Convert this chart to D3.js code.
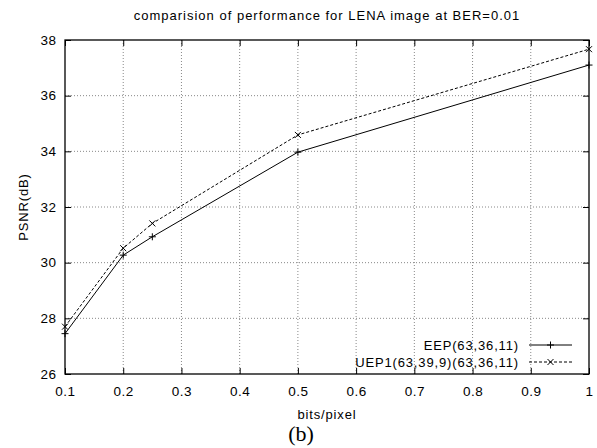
<!DOCTYPE html>
<html><head><meta charset="utf-8">
<script src="https://cdn.jsdelivr.net/npm/d3@7"></script>
<style>body{margin:0;background:#fff}svg{display:block}</style>
</head><body>
<svg id="c" width="597" height="448"></svg>
<script>
const xVals = [0.1, 0.2, 0.25, 0.5, 1.0];
const eep = [27.45, 30.27, 30.93, 33.97, 37.1];
const uep = [27.7, 30.52, 31.41, 34.59, 37.67];
const xTicks = [0.1,0.2,0.3,0.4,0.5,0.6,0.7,0.8,0.9,1];
const yTicks = [26,28,30,32,34,36,38];
const seriesNames = ["EEP(63,36,11)", "UEP1(63,39,9)(63,36,11)"];

const SANS = "Liberation Sans, Arial, sans-serif";
const svg = d3.select("#c");
const L=65, R=589, T=40, B=374;
const x = d3.scaleLinear().domain([0.1,1]).range([L,R]);
const y = d3.scaleLinear().domain([26,38]).range([B,T]);

// grid
const g = svg.append("g");
xTicks.forEach(t=>{ if(t>0.1 && t<1) g.append("line").attr("x1",x(t)).attr("x2",x(t)).attr("y1",T).attr("y2",B)
  .attr("stroke","#888").attr("stroke-width",1).attr("stroke-dasharray","1,2");});
yTicks.forEach(t=>{ if(t>26 && t<38) g.append("line").attr("x1",L).attr("x2",R).attr("y1",y(t)).attr("y2",y(t))
  .attr("stroke","#888").attr("stroke-width",1).attr("stroke-dasharray","1,2");});

// axes
const ax = svg.append("g").attr("transform",`translate(0,${B})`)
  .call(d3.axisBottom(x).tickValues(xTicks).tickFormat(d=>d===1?"1":d3.format(".1f")(d)).tickSizeInner(-6).tickSizeOuter(0).tickPadding(12));
const axT = svg.append("g").attr("transform",`translate(0,${T})`)
  .call(d3.axisTop(x).tickValues(xTicks).tickFormat("").tickSizeInner(-6).tickSizeOuter(0));
const ay = svg.append("g").attr("transform",`translate(${L},0)`)
  .call(d3.axisLeft(y).tickValues(yTicks).tickSizeInner(-6).tickSizeOuter(0).tickPadding(9));
const ayR = svg.append("g").attr("transform",`translate(${R},0)`)
  .call(d3.axisRight(y).tickValues(yTicks).tickFormat("").tickSizeInner(-6).tickSizeOuter(0));
[ax,axT,ay,ayR].forEach(a=>{a.select(".domain").remove(); a.selectAll("line").attr("stroke","#000");
  a.selectAll("text").attr("font-size",13.5).attr("fill","#000").attr("font-family",SANS).attr("letter-spacing","0.5px");});
ay.selectAll("text").attr("dx","0.5");
svg.append("rect").attr("x",L).attr("y",T).attr("width",R-L).attr("height",B-T)
  .attr("fill","none").attr("stroke","#000").attr("stroke-width",1.3);

// lines
const line = d3.line().x(d=>x(d[0])).y(d=>y(d[1]));
const eData = xVals.map((v,i)=>[v,eep[i]]);
const uData = xVals.map((v,i)=>[v,uep[i]]);
svg.append("path").datum(eData).attr("d",line).attr("fill","none").attr("stroke","#000").attr("stroke-width",1);
svg.append("path").datum(uData).attr("d",line).attr("fill","none").attr("stroke","#000").attr("stroke-width",1).attr("stroke-dasharray","3,2");
function plus(sel,cx,cy){sel.append("path").attr("d",`M${cx-3.5},${cy}H${cx+3.5}M${cx},${cy-3.5}V${cy+3.5}`).attr("stroke","#000").attr("stroke-width",1);}
function cross(sel,cx,cy){sel.append("path").attr("d",`M${cx-3},${cy-3}L${cx+3},${cy+3}M${cx-3},${cy+3}L${cx+3},${cy-3}`).attr("stroke","#000").attr("stroke-width",1);}
eData.forEach(d=>plus(svg,x(d[0]),y(d[1])));
uData.forEach(d=>cross(svg,x(d[0]),y(d[1])));

// legend
const lg = svg.append("g");
[[345,false],[362,true]].forEach(([ly,dash],i)=>{
  lg.append("text").attr("x",519).attr("y",ly).attr("dy","0.35em").attr("text-anchor","end").attr("font-size",13)
    .attr("font-family",SANS).attr("letter-spacing","0.85px").text(seriesNames[i]);
  lg.append("line").attr("x1",529).attr("x2",572).attr("y1",ly).attr("y2",ly).attr("stroke","#000").attr("stroke-width",1)
    .attr("stroke-dasharray",dash?"3,2":null);
  if(dash) cross(lg,550.5,ly); else plus(lg,550.5,ly);
});

// titles
svg.append("text").attr("x",327).attr("y",20).attr("text-anchor","middle").attr("font-size",13)
  .attr("font-family",SANS).attr("letter-spacing","1px").text("comparision of performance for LENA image at BER=0.01");
svg.append("text").attr("x",327).attr("y",419).attr("text-anchor","middle").attr("font-size",13)
  .attr("font-family",SANS).attr("letter-spacing","0.85px").text("bits/pixel");
svg.append("text").attr("transform",`translate(28,207) rotate(-90)`).attr("text-anchor","middle").attr("font-size",13)
  .attr("font-family",SANS).attr("letter-spacing","0.85px").text("PSNR(dB)");
svg.append("text").attr("x",301).attr("y",441).attr("text-anchor","middle").attr("font-size",22)
  .attr("font-family","Liberation Serif, Times New Roman, serif").text("(b)");
</script>
</body></html>
